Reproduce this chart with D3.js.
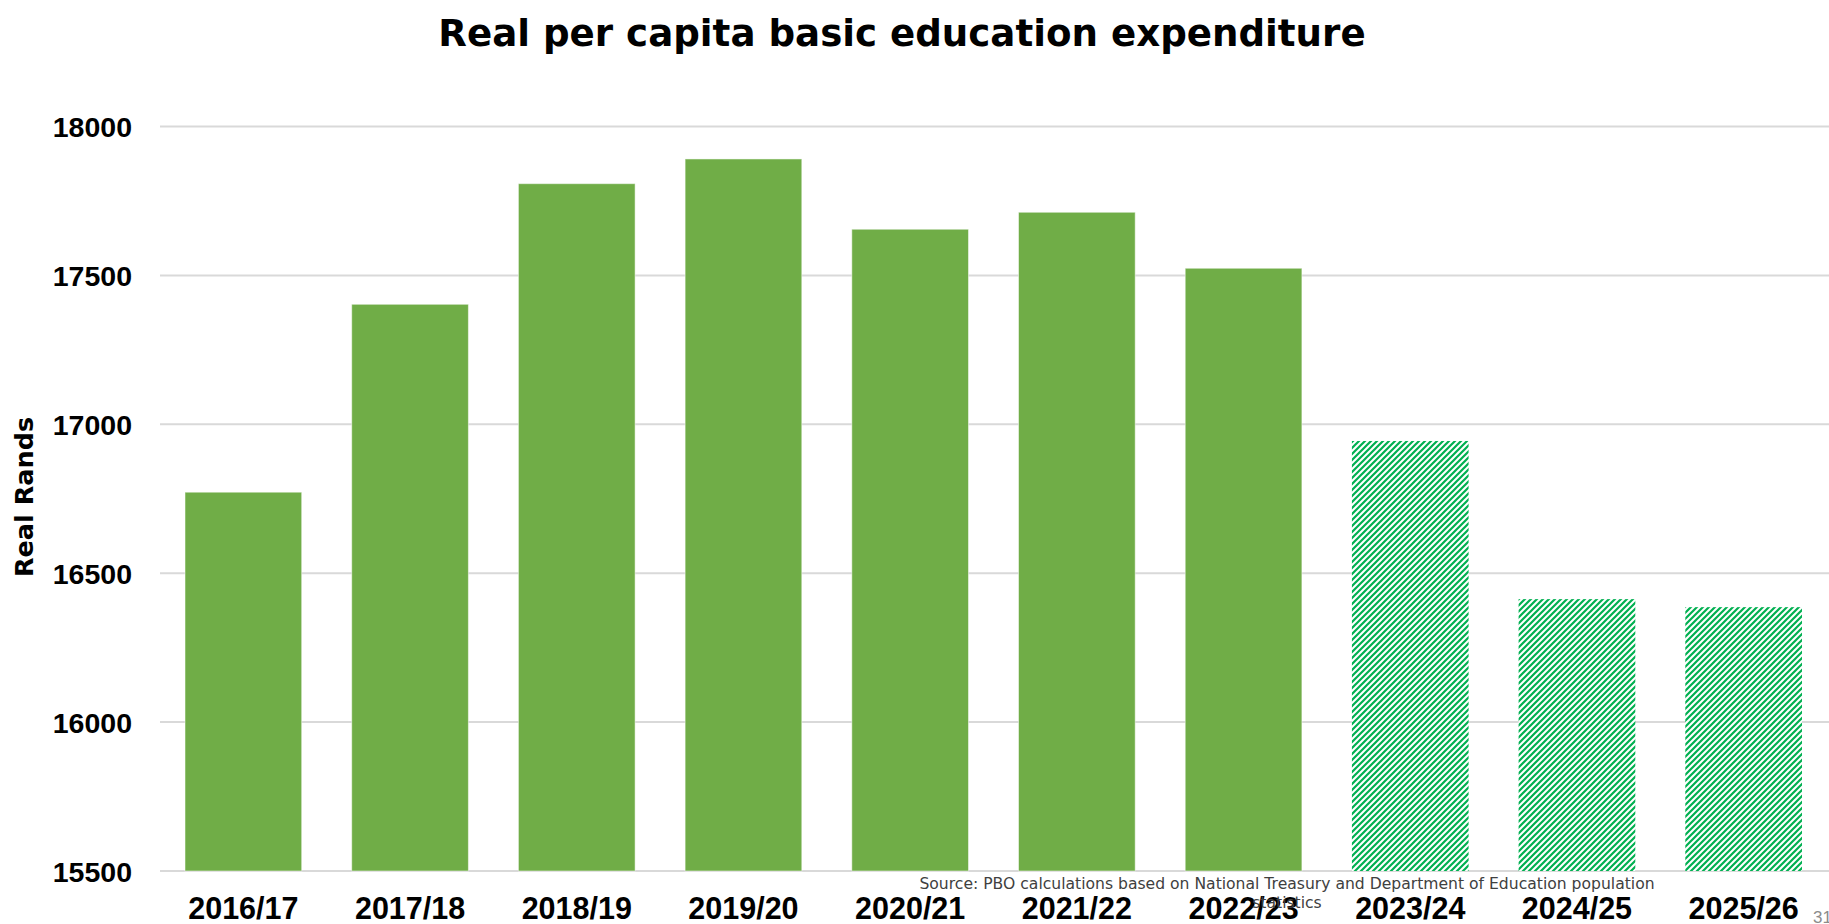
<!DOCTYPE html>
<html>
<head>
<meta charset="utf-8">
<script src="https://cdn.jsdelivr.net/npm/d3@7"></script>
<style>
  html, body { margin: 0; padding: 0; background: #ffffff; overflow: hidden; }
  svg { display: block; }
</style>
</head>
<body>
<script>
// Fiscal years on the category axis
const years = ["2016/17", "2017/18", "2018/19", "2019/20", "2020/21",
               "2021/22", "2022/23", "2023/24", "2024/25", "2025/26"];
// Real per capita basic education spending, in real Rands
const perCapita = [16772, 17403, 17808, 17891, 17655, 17712, 17524, 16944, 16413, 16386];
// Medium-term estimates are shown hatched
const projected = [false, false, false, false, false, false, false, true, true, true];
// Value axis ticks
const yTicks = [15500, 16000, 16500, 17000, 17500, 18000];

const titleText = "Real per capita basic education expenditure";
const yAxisTitle = "Real Rands";
const sourceLines = ["Source: PBO calculations based on National Treasury and Department of Education population",
                     "statistics"];
const slideNumber = "31";

const W = 1829, H = 924;
const plot = { left: 160, right: 1827, top: 126.5, bottom: 871 };
const wideFont = "'DejaVu Sans', Verdana, sans-serif";
const numFont = "'Liberation Sans', Arial, sans-serif";

const svg = d3.select("body").append("svg")
  .attr("width", W).attr("height", H)
  .style("font-family", numFont);

// Hatch used for projected years
const defs = svg.append("defs");
const hatch = defs.append("pattern")
  .attr("id", "hatch")
  .attr("patternUnits", "userSpaceOnUse")
  .attr("width", 6).attr("height", 6);
hatch.append("rect").attr("width", 6).attr("height", 6).attr("fill", "#ffffff");
hatch.append("path")
  .attr("d", "M0,6 L6,0 M-1,1 L1,-1 M5,7 L7,5")
  .attr("stroke", "#00B050").attr("stroke-width", 2.2)
  .attr("stroke-linecap", "square");

const x = d3.scaleBand()
  .domain(years)
  .range([plot.left, plot.right])
  .paddingInner(0.3)
  .paddingOuter(0.15);

const y = d3.scaleLinear()
  .domain([yTicks[0], yTicks[yTicks.length - 1]])
  .range([plot.bottom, plot.top]);

// Horizontal gridlines
svg.append("g")
  .selectAll("line")
  .data(yTicks)
  .join("line")
  .attr("x1", plot.left).attr("x2", W)
  .attr("y1", d => y(d)).attr("y2", d => y(d))
  .attr("stroke", "#d9d9d9").attr("stroke-width", 2);

// Bars
svg.append("g")
  .selectAll("rect")
  .data(years.map((yr, i) => ({ yr, v: perCapita[i], p: projected[i] })))
  .join("rect")
  .attr("x", d => x(d.yr))
  .attr("width", x.bandwidth())
  .attr("y", d => y(d.v))
  .attr("height", d => y(yTicks[0]) - y(d.v))
  .attr("fill", d => d.p ? "url(#hatch)" : "#70AD47")
  .attr("stroke", d => d.p ? "none" : "rgba(255,255,255,0.5)")
  .attr("stroke-width", 1);

// Value axis labels
const yAxis = d3.axisLeft(y).tickValues(yTicks).tickSize(0).tickPadding(0).tickFormat(d3.format("d"));
const gy = svg.append("g").attr("transform", "translate(132,0)").call(yAxis);
gy.select(".domain").remove();
gy.selectAll("text")
  .style("font-family", numFont)
  .style("font-size", "28.5px").style("font-weight", "bold").attr("fill", "#000")
  .attr("dy", "0.36em");

// Category axis labels
const xAxis = d3.axisBottom(x).tickSize(0).tickPadding(0);
const gx = svg.append("g").attr("transform", "translate(0,919)").call(xAxis);
gx.select(".domain").remove();
gx.selectAll("text")
  .style("font-family", numFont)
  .style("font-size", "30.5px").style("font-weight", "bold").attr("fill", "#000")
  .attr("y", 0).attr("dy", 0);

// Chart title
svg.append("text")
  .attr("x", 902).attr("y", 46)
  .attr("text-anchor", "middle")
  .style("font-family", wideFont)
  .style("font-size", "37.2px").style("font-weight", "bold").attr("fill", "#000")
  .text(titleText);

// Value axis title
svg.append("text")
  .attr("transform", "translate(33,497) rotate(-90)")
  .attr("text-anchor", "middle")
  .style("font-family", wideFont)
  .style("font-size", "25.5px").style("font-weight", "bold").attr("fill", "#000")
  .text(yAxisTitle);

// Source note
svg.append("g")
  .selectAll("text")
  .data(sourceLines)
  .join("text")
  .attr("x", 1287).attr("y", (d, i) => 889 + i * 19)
  .attr("text-anchor", "middle")
  .style("font-family", wideFont)
  .style("font-size", "15.6px").attr("fill", "#404040")
  .text(d => d);

// Slide number
svg.append("text")
  .attr("x", 1813).attr("y", 923)
  .style("font-size", "17px").attr("fill", "#8c8c8c")
  .text(slideNumber);
</script>
</body>
</html>
